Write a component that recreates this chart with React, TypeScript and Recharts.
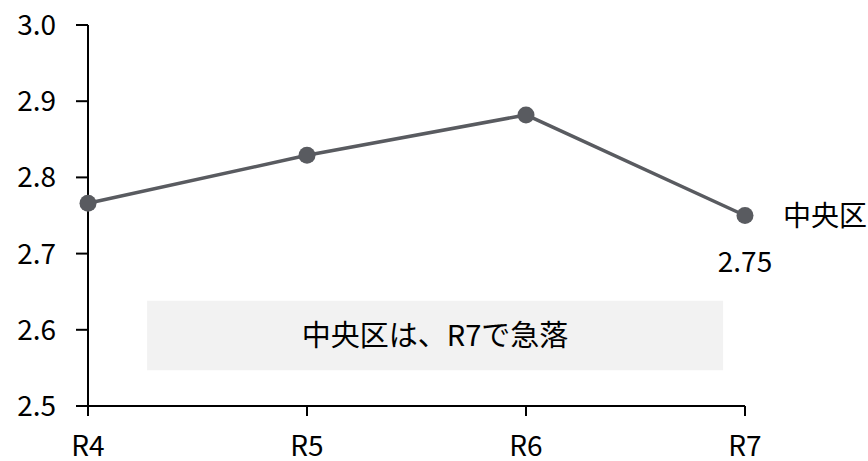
import React from 'react';
import {
  LineChart,
  Line,
  XAxis,
  YAxis,
  ReferenceArea,
  LabelList
} from 'recharts';

const categories = ['R4', 'R5', 'R6', 'R7'];
const chuoValues = [2.766, 2.829, 2.882, 2.75];
const yTicks = [2.5, 2.6, 2.7, 2.8, 2.9, 3.0];
const seriesName = '中央区';
const noteText = '中央区は、R7で急落';

const FONT = '"Noto Sans CJK JP", "Noto Sans", sans-serif';
const LINE_COLOR = '#595b60';

const data = categories.map((c, i) => ({ idx: i, name: c, value: chuoValues[i] }));

// only the last point gets the series name and its value
const EndLabel = (props: any) => {
  const { x, y, index, value } = props;
  if (index !== categories.length - 1) return null;
  return (
    <g>
      <text x={x + 38} y={y} dy="0.36em" fontSize={28} fill="#000" fontFamily={FONT}>
        {seriesName}
      </text>
      <text x={x} y={y + 46} dy="0.36em" textAnchor="middle" fontSize={28} fill="#000" fontFamily={FONT}>
        {value.toFixed(2)}
      </text>
    </g>
  );
};

export default function App() {
  return (
    <div style={{ position: 'absolute', left: 0, top: 0, width: 868, height: 461, background: '#fff' }}>
      <LineChart
        width={868}
        height={461}
        data={data}
        margin={{ top: 25, right: 123, bottom: 0, left: 0 }}
      >
        <XAxis
          dataKey="idx"
          type="number"
          domain={[0, categories.length - 1]}
          ticks={categories.map((_, i) => i)}
          tickFormatter={(i: number) => categories[i]}
          height={55}
          tickSize={10}
          tickMargin={20}
          axisLine={{ stroke: '#000', strokeWidth: 2 }}
          tickLine={{ stroke: '#000', strokeWidth: 2 }}
          tick={{ fontSize: 28, fill: '#000', fontFamily: FONT }}
        />
        <YAxis
          domain={[2.5, 3.0]}
          ticks={yTicks}
          tickFormatter={(v: number) => v.toFixed(1)}
          width={88}
          tickSize={12}
          tickMargin={20}
          axisLine={{ stroke: '#000', strokeWidth: 2 }}
          tickLine={{ stroke: '#000', strokeWidth: 2 }}
          tick={{ fontSize: 28, fill: '#000', fontFamily: FONT }}
        />
        <ReferenceArea
          x1={0.27}
          x2={2.9}
          y1={2.547}
          y2={2.638}
          fill="#f2f2f2"
          fillOpacity={1}
          stroke="none"
          label={{ value: noteText, position: 'center', fontSize: 29, fill: '#000', fontFamily: FONT }}
        />
        <Line
          type="linear"
          dataKey="value"
          stroke={LINE_COLOR}
          strokeWidth={3.5}
          dot={{ r: 8.5, fill: LINE_COLOR, stroke: LINE_COLOR, strokeWidth: 0 }}
          activeDot={false}
          isAnimationActive={false}
        >
          <LabelList dataKey="value" content={EndLabel} />
        </Line>
      </LineChart>
    </div>
  );
}
